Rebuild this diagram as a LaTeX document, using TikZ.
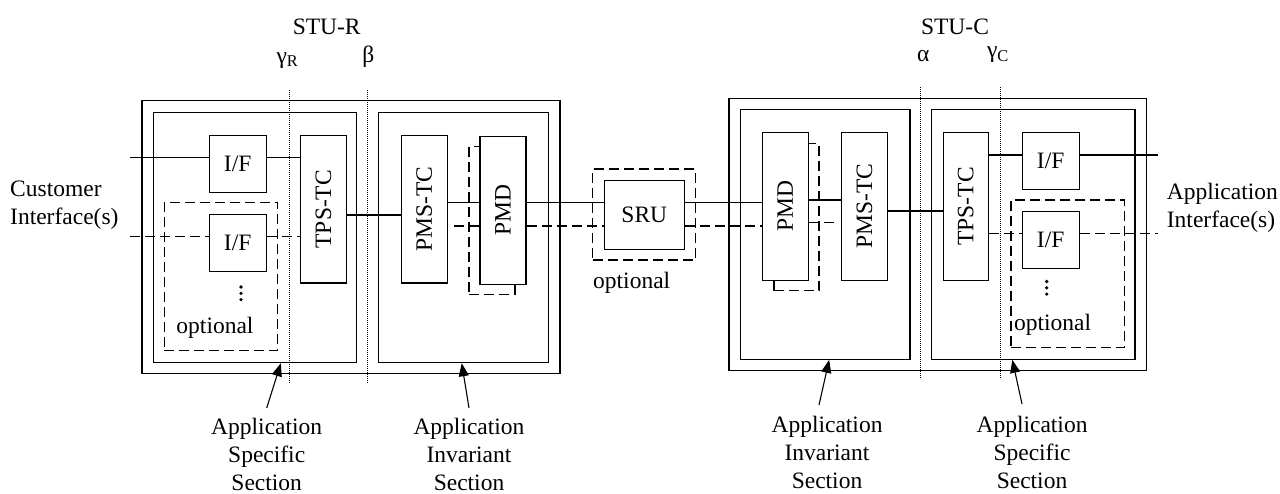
\documentclass[tikz,border=0pt]{standalone}
\usepackage{fontspec}
\setmainfont{Liberation Serif}
\usepackage{graphicx}
\usetikzlibrary{arrows.meta}

\begin{document}
\begin{tikzpicture}[x=1pt,y=-1pt,
        font=\fontsize{23.5}{28}\selectfont,
        every node/.style={inner sep=0pt},
        frame/.style={draw,line width=1.1pt},
        block/.style={draw,line width=1.1pt,fill=white,minimum width=57pt,minimum height=57pt},
        vblock/.style={block,minimum width=46pt,minimum height=147.5pt},
        option/.style={draw,line width=1.1pt,dash pattern=on 10pt off 5pt},
        link/.style={line width=1.1pt},
        option link/.style={link,dash pattern=on 10pt off 5pt},
        ref line/.style={line width=0.8pt,dash pattern=on 0.9pt off 1.1pt},
        pointer/.style={-{Triangle[length=13pt,width=10pt]},line width=1.1pt}]
    \useasboundingbox (0,0) rectangle (1280,493);

    % STU-R
    \node[frame,minimum width=418pt,minimum height=273pt] (stuR) at (351,237.2) {};
    \node[frame,minimum width=203pt,minimum height=250pt] (asR) at (254.8,237.7) {};
    \node[frame,minimum width=170pt,minimum height=250pt] (aiR) at (463.3,237.7) {};
    \node[option,minimum width=113.4pt,minimum height=148.4pt] (optR) at (221,276.5) {};
    \node[block] (ifR1) at (237.7,163.7) {I/F};
    \node[block] (ifR2) at (237.7,243.3) {I/F};
    \fill (241,287) circle (1.8pt) (241,293.3) circle (1.8pt) (241,299.6) circle (1.8pt);
    \node (optRtext) at (215,327.7) {optional};
    \node[vblock] (tpsR) at (323.5,209.2) {\rotatebox{90}{TPS-TC}};
    \node[vblock] (pmsR) at (424.2,209.2) {\rotatebox{90}{PMS-TC}};
    \node[option,minimum width=46pt,minimum height=147.5pt] (pmdRback) at (492,220.3) {};
    \node[vblock] (pmdR) at (503,210.3) {\rotatebox{90}{PMD}};

    % SRU
    \node[option,minimum width=102.6pt,minimum height=91pt] (optS) at (644,214.5) {};
    \node[block,minimum width=80pt,minimum height=68.6pt] (sru) at (644.3,215) {SRU};
    \node (optStext) at (631.7,283.3) {optional};

    % STU-C
    \node[frame,minimum width=417.7pt,minimum height=272pt] (stuC) at (937.85,234.3) {};
    \node[frame,minimum width=169.7pt,minimum height=250pt] (aiC) at (825.15,234.3) {};
    \node[frame,minimum width=203.3pt,minimum height=250pt] (asC) at (1033.35,234.3) {};
    \node[option,minimum width=113.3pt,minimum height=147.7pt] (optC) at (1067.65,273.85) {};
    \node[block] (ifC1) at (1050.7,160.7) {I/F};
    \node[block] (ifC2) at (1050.7,240) {I/F};
    \fill (1046.7,281.5) circle (1.8pt) (1046.7,287.8) circle (1.8pt) (1046.7,294.1) circle (1.8pt);
    \node (optCtext) at (1052.5,325) {optional};
    \node[option,minimum width=45pt,minimum height=147.4pt] (pmdCback) at (796.5,217) {};
    \node[vblock] (pmdC) at (785.3,206.35) {\rotatebox{90}{PMD}};
    \node[vblock] (pmsC) at (864.5,206.35) {\rotatebox{90}{PMS-TC}};
    \node[vblock,minimum width=45pt] (tpsC) at (965.8,206.35) {\rotatebox{90}{TPS-TC}};

    % reference points
    \draw[ref line] (289,90) -- (289,382.7);
    \draw[ref line] (367.7,90) -- (367.7,382.7);
    \draw[ref line] (920.7,87.3) -- (920.7,379.3);
    \draw[ref line] (1000,87.3) -- (1000,379.3);
    \node[anchor=base] (stuRlbl) at (326.7,34) {STU-R};
    \node[anchor=base] (gammaR) at (287.5,63) {γ\textsubscript{R}};
    \node[anchor=base] (betaR) at (368.3,62) {β};
    \node[anchor=base] (stuClbl) at (955,34) {STU-C};
    \node[anchor=base] (alphaC) at (923.3,61.7) {α};
    \node[anchor=base] (gammaC) at (998,57.5) {γ\textsubscript{C}};

    % interfaces
    \node[anchor=west,align=left] (custif) at (10,205.5) {Customer\\Interface(s)};
    \node[anchor=west,align=left] (appif) at (1166.7,208) {Application\\Interface(s)};
    \coordinate (inR1) at (130,157.5);
    \coordinate (inR2) at (130,236.7);
    \coordinate (outC1) at (1157.7,155);
    \coordinate (outC2) at (1157.7,233.3);
    \coordinate (rowA) at (0,202.7);
    \coordinate (rowB) at (0,226);
    \coordinate (stubR) at (454,226);
    \coordinate (stubC) at (834,222.5);

    \draw[link] (inR1) -- (inR1 -| ifR1.west);
    \draw[link] (ifR1.east |- inR1) -- (tpsR.west |- inR1);
    \draw[option link] (inR2) -- (inR2 -| ifR2.west);
    \draw[option link] (ifR2.east |- inR2) -- (tpsR.west |- inR2);
    \draw[link] (tpsR.east |- 0,215) -- (pmsR.west |- 0,215);
    \draw[link] (pmsR.east |- rowA) -- (pmdR.west |- rowA);
    \draw[option link] (stubR) -- (pmdR.west |- stubR);
    \draw[link] (pmdR.east |- rowA) -- (sru.west |- rowA);
    \draw[option link] (pmdR.east |- rowB) -- (sru.west |- rowB);
    \draw[link] (sru.east |- rowA) -- (pmdC.west |- rowA);
    \draw[option link] (sru.east |- rowB) -- (pmdC.west |- rowB);
    \draw[link] (pmdC.east |- 0,200) -- (pmsC.west |- 0,200);
    \draw[option link] (pmdC.east |- stubC) -- (stubC);
    \draw[link] (pmsC.east |- 0,211) -- (tpsC.west |- 0,211);
    \draw[link] (tpsC.east |- outC1) -- (ifC1.west |- outC1);
    \draw[link] (ifC1.east |- outC1) -- (outC1);
    \draw[option link] (tpsC.east |- outC2) -- (ifC2.west |- outC2);
    \draw[option link] (ifC2.east |- outC2) -- (outC2);

    % sections
    \node[anchor=north,align=center] (lasR) at (266.7,418) {Application\\Specific\\Section};
    \node[anchor=north,align=center] (laiR) at (469,418) {Application\\Invariant\\Section};
    \node[anchor=north,align=center] (laiC) at (827,416) {Application\\Invariant\\Section};
    \node[anchor=north,align=center] (lasC) at (1032,416) {Application\\Specific\\Section};
    \draw[pointer] ([yshift=10pt]lasR.north) -- ([xshift=26pt]asR.south);
    \draw[pointer] ([yshift=10pt]laiR.north) -- ([xshift=-1.6pt]aiR.south);
    \draw[pointer] ([xshift=-8pt,yshift=11pt]laiC.north) -- ([xshift=4pt]aiC.south);
    \draw[pointer] ([xshift=-10pt,yshift=12pt]lasC.north) -- ([xshift=-21pt]asC.south);
\end{tikzpicture}
\end{document}
